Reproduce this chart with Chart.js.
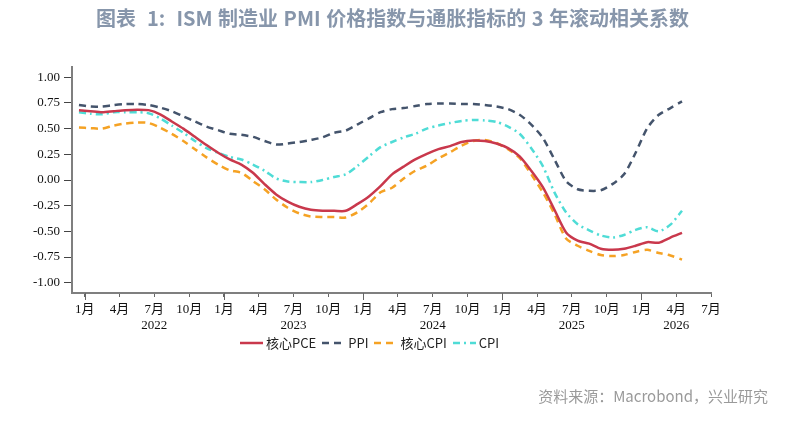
<!DOCTYPE html>
<html>
<head>
<meta charset="utf-8">
<script src="https://cdn.jsdelivr.net/npm/chart.js@4.4.1/dist/chart.umd.min.js"></script>
<style>
    body { margin: 0; background: #fff; width: 785px; height: 423px; overflow: hidden; position: relative; font-family: "Noto Sans CJK SC", sans-serif; }
    #title { position: absolute; left: 0; top: 3px; width: 785px; text-align: center; font-size: 20px; font-weight: bold; color: #8796ab; white-space: nowrap; word-spacing: 1px; }
    #wrap { position: absolute; left: 0; top: 0; width: 785px; height: 423px; }
    #legend { position: absolute; left: 240px; top: 333px; display: flex; align-items: center; font-size: 13px; color: #222; white-space: nowrap; }
    #legend .item { display: flex; align-items: center; margin-right: 6px; }
    #legend svg { margin-right: 3px; }
    #source { position: absolute; right: 17px; top: 385px; font-size: 15px; color: #9a9a9a; white-space: nowrap; }
</style>
</head>
<body>
<div id="wrap"><canvas id="chart" width="785" height="423"></canvas></div>
<div id="title">图表&nbsp; 1:&nbsp; ISM 制造业 PMI 价格指数与通胀指标的 3 年滚动相关系数</div>
<div id="legend"></div>
<div id="source">资料来源：Macrobond，兴业研究</div>
<script>
// ——— DATA ———
const months = [
    '2021-12',
    '2022-01', '2022-02', '2022-03', '2022-04', '2022-05', '2022-06', '2022-07', '2022-08', '2022-09', '2022-10', '2022-11', '2022-12',
    '2023-01', '2023-02', '2023-03', '2023-04', '2023-05', '2023-06', '2023-07', '2023-08', '2023-09', '2023-10', '2023-11', '2023-12',
    '2024-01', '2024-02', '2024-03', '2024-04', '2024-05', '2024-06', '2024-07', '2024-08', '2024-09', '2024-10', '2024-11', '2024-12',
    '2025-01', '2025-02', '2025-03', '2025-04', '2025-05', '2025-06', '2025-07', '2025-08', '2025-09', '2025-10', '2025-11', '2025-12',
    '2026-01', '2026-02', '2026-03', '2026-04'
];

const corePCE = [
    0.68,
    0.67, 0.66, 0.67, 0.68, 0.685, 0.68, 0.64, 0.57, 0.50, 0.42, 0.34, 0.265,
    0.20, 0.15, 0.07, -0.04, -0.14, -0.21, -0.26, -0.29, -0.30, -0.30, -0.30, -0.235,
    -0.16, -0.06, 0.055, 0.13, 0.20, 0.255, 0.30, 0.33, 0.37, 0.385, 0.38, 0.355,
    0.31, 0.23, 0.09, -0.07, -0.29, -0.51, -0.59, -0.62, -0.67, -0.68, -0.67, -0.64,
    -0.605, -0.61, -0.56, -0.515
];

const ppi = [
    0.73,
    0.715, 0.715, 0.73, 0.74, 0.74, 0.73, 0.705, 0.67, 0.62, 0.57, 0.52, 0.485,
    0.45, 0.44, 0.42, 0.38, 0.345, 0.355, 0.37, 0.39, 0.415, 0.46, 0.48, 0.54,
    0.60, 0.66, 0.69, 0.70, 0.72, 0.74, 0.745, 0.745, 0.74, 0.74, 0.73, 0.715,
    0.69, 0.635, 0.54, 0.41, 0.20, -0.01, -0.09, -0.105, -0.10, -0.04, 0.055, 0.265,
    0.505, 0.635, 0.70, 0.765
];

const coreCPI = [
    0.51,
    0.505, 0.50, 0.53, 0.55, 0.56, 0.555, 0.51, 0.45, 0.38, 0.30, 0.22, 0.15,
    0.095, 0.07, -0.01, -0.09, -0.19, -0.27, -0.325, -0.355, -0.36, -0.36, -0.365, -0.315,
    -0.23, -0.12, -0.075, 0.015, 0.09, 0.14, 0.21, 0.27, 0.335, 0.38, 0.39, 0.36,
    0.30, 0.215, 0.055, -0.12, -0.33, -0.57, -0.64, -0.69, -0.73, -0.74, -0.73, -0.70,
    -0.68, -0.71, -0.735, -0.775
];

const cpi = [
    0.66,
    0.645, 0.64, 0.66, 0.66, 0.66, 0.65, 0.60, 0.53, 0.46, 0.38, 0.31, 0.265,
    0.225, 0.20, 0.15, 0.09, 0.015, -0.015, -0.02, -0.02, 0.00, 0.03, 0.055, 0.135,
    0.23, 0.32, 0.37, 0.415, 0.45, 0.50, 0.53, 0.555, 0.575, 0.585, 0.58, 0.565,
    0.52, 0.45, 0.31, 0.135, -0.12, -0.315, -0.43, -0.49, -0.54, -0.56, -0.535, -0.485,
    -0.46, -0.50, -0.435, -0.30
];

const seriesNames = ['核心PCE', 'PPI', '核心CPI', 'CPI'];

const tickMonths = [
    '2022-01', '2022-04', '2022-07', '2022-10',
    '2023-01', '2023-04', '2023-07', '2023-10',
    '2024-01', '2024-04', '2024-07', '2024-10',
    '2025-01', '2025-04', '2025-07', '2025-10',
    '2026-01', '2026-04', '2026-07'
];
const yearLabels = { '2022-07': '2022', '2023-07': '2023', '2024-07': '2024', '2025-07': '2025', '2026-04': '2026' };
const yTicks = [1.00, 0.75, 0.50, 0.25, 0.00, -0.25, -0.50, -0.75, -1.00];

// ——— STYLE ———
const colors = ['#c9384c', '#44546c', '#f5a224', '#4fdcd6'];
const dashes = [[], [7, 5], [7, 5], [7, 4, 2, 4]];

function monthIndex(s) {
    const [y, m] = s.split('-').map(Number);
    return (y - 2022) * 12 + (m - 1);
}
// values are month-end observations
const pts = arr => arr.map((v, i) => ({ x: monthIndex(months[i]) + 0.5, y: v }));

// ——— LEGEND (html) ———
const legend = document.getElementById('legend');
seriesNames.forEach((name, i) => {
    const d = dashes[i].length ? `stroke-dasharray="${dashes[i].join(' ')}"` : '';
    legend.innerHTML += `<div class="item"><svg width="23" height="6"><line x1="0" y1="3" x2="23" y2="3" stroke="${colors[i]}" stroke-width="2.5" ${d}/></svg><span>${name}</span></div>`;
});

// ——— CHART ———
const yearTicks = {
    id: 'yearTicks',
    afterDraw(chart) {
        const xs = chart.scales.x, c = chart.ctx;
        c.save();
        c.strokeStyle = '#666';
        c.lineWidth = 1;
        tickMonths.filter(m => m.endsWith('-01')).forEach(m => {
            const px = Math.round(xs.getPixelForValue(monthIndex(m))) + 0.5;
            c.beginPath();
            c.moveTo(px, xs.top);
            c.lineTo(px, xs.top + 7);
            c.stroke();
        });
        c.restore();
    }
};

const tickFont = { family: '"Liberation Serif", "Noto Sans CJK SC", serif', size: 13 };

new Chart(document.getElementById('chart'), {
    type: 'line',
    data: {
        datasets: [corePCE, ppi, coreCPI, cpi].map((arr, i) => ({
            label: seriesNames[i],
            data: pts(arr),
            borderColor: colors[i],
            borderWidth: 2.5,
            borderDash: dashes[i],
            pointRadius: 0,
            tension: 0.25,
            fill: false
        }))
    },
    options: {
        responsive: false,
        animation: false,
        layout: { padding: { left: 0, top: 67, right: 74, bottom: 85 } },
        plugins: { legend: { display: false }, tooltip: { enabled: false } },
        scales: {
            x: {
                type: 'linear',
                min: -1.1,
                max: 54,
                afterBuildTicks: s => { s.ticks = tickMonths.map(m => ({ value: monthIndex(m) })); },
                afterFit: s => { s.height = 45; },
                border: { color: '#7f7f7f', width: 2 },
                grid: { drawOnChartArea: false, drawTicks: true, tickLength: 4, tickColor: '#666' },
                ticks: {
                    autoSkip: false, maxRotation: 0, padding: 5, color: '#111', font: tickFont,
                    callback: (v, idx) => {
                        const m = tickMonths[idx];
                        const lbl = Number(m.split('-')[1]) + '月';
                        return yearLabels[m] ? [lbl, yearLabels[m]] : lbl;
                    }
                }
            },
            y: {
                min: -1.1,
                max: 1.1,
                afterBuildTicks: s => { s.ticks = yTicks.map(v => ({ value: v })); },
                afterFit: s => { s.width = 72; },
                border: { color: '#7f7f7f', width: 2 },
                grid: { drawOnChartArea: false, drawTicks: true, tickLength: 8, tickColor: '#444' },
                ticks: { padding: 4, color: '#111', font: tickFont, callback: v => v.toFixed(2) }
            }
        }
    },
    plugins: [yearTicks]
});
</script>
</body>
</html>
